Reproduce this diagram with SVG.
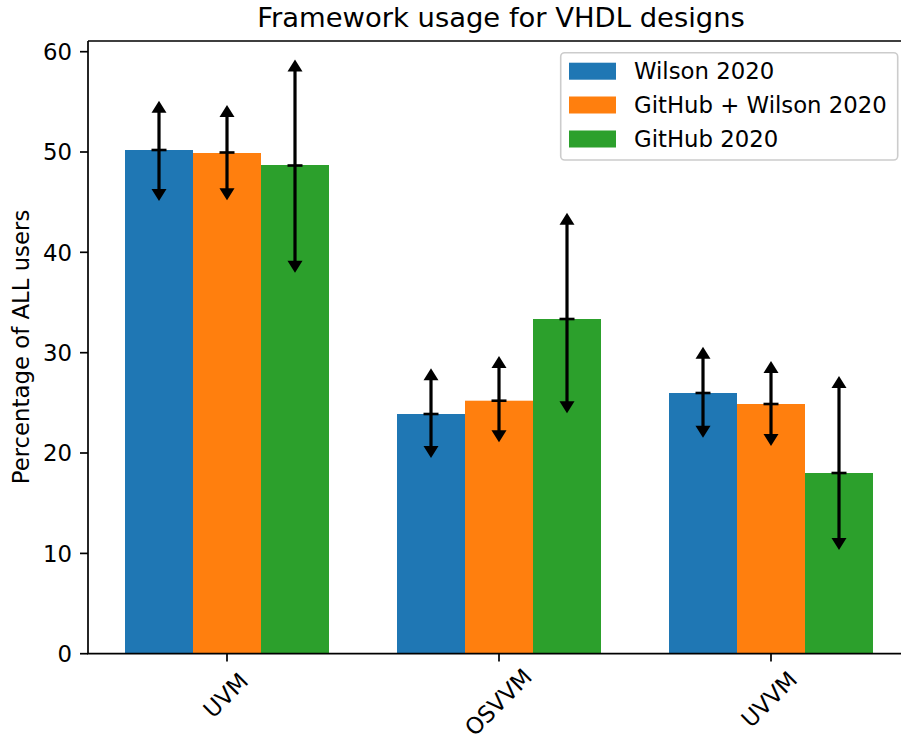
<svg xmlns="http://www.w3.org/2000/svg" width="901" height="740" viewBox="0 0 901 740">
<style>
text{font-family:"DejaVu Sans","Liberation Sans",sans-serif;fill:#000}
.tk{font-size:22.8px}
.b1{fill:#1f77b4}.b2{fill:#ff7f0e}.b3{fill:#2ca02c}
.err{stroke:#000;stroke-width:3.2;fill:none}
.cap{stroke:#000;stroke-width:2.6}
.spine{stroke:#000;stroke-width:1.7;fill:none}
.tick{stroke:#000;stroke-width:1.7}
</style>
<defs>
<path id="up" d="M0,0 L7.5,12 L-7.5,12 Z"/>
<path id="dn" d="M0,0 L7.5,-12 L-7.5,-12 Z"/>
</defs>
<rect width="901" height="740" fill="#fff"/>
<g id="bars">
<rect class="b1" x="125" y="150" width="68" height="503.7"/>
<rect class="b2" x="193" y="153" width="68" height="500.7"/>
<rect class="b3" x="261" y="165" width="68" height="488.7"/>
<rect class="b1" x="397" y="414" width="68" height="239.7"/>
<rect class="b2" x="465" y="400.7" width="68" height="253"/>
<rect class="b3" x="533" y="319" width="68" height="334.7"/>
<rect class="b1" x="669" y="393" width="68" height="260.7"/>
<rect class="b2" x="737" y="404" width="68" height="249.7"/>
<rect class="b3" x="805" y="473" width="68" height="180.7"/>
</g>
<g id="connectors">
<g id="err-uvm-wilson"><line class="err" x1="159" y1="106" x2="159" y2="195"/><line class="cap" x1="151.5" y1="150" x2="166.5" y2="150"/><use href="#up" x="159" y="100.7"/><use href="#dn" x="159" y="201"/></g>
<g id="err-uvm-both"><line class="err" x1="227" y1="110" x2="227" y2="194"/><line class="cap" x1="219.5" y1="152.5" x2="234.5" y2="152.5"/><use href="#up" x="227" y="105"/><use href="#dn" x="227" y="200.3"/></g>
<g id="err-uvm-github"><line class="err" x1="295" y1="65" x2="295" y2="267"/><line class="cap" x1="287.5" y1="165.5" x2="302.5" y2="165.5"/><use href="#up" x="295" y="59.5"/><use href="#dn" x="295" y="272.7"/></g>
<g id="err-osvvm-wilson"><line class="err" x1="431" y1="374" x2="431" y2="452"/><line class="cap" x1="423.5" y1="414" x2="438.5" y2="414"/><use href="#up" x="431" y="368.3"/><use href="#dn" x="431" y="458"/></g>
<g id="err-osvvm-both"><line class="err" x1="499" y1="361" x2="499" y2="437"/><line class="cap" x1="491.5" y1="400.7" x2="506.5" y2="400.7"/><use href="#up" x="499" y="356"/><use href="#dn" x="499" y="442.3"/></g>
<g id="err-osvvm-github"><line class="err" x1="567" y1="218" x2="567" y2="408"/><line class="cap" x1="559.5" y1="319" x2="574.5" y2="319"/><use href="#up" x="567" y="212.7"/><use href="#dn" x="567" y="413.3"/></g>
<g id="err-uvvm-wilson"><line class="err" x1="703" y1="352" x2="703" y2="432"/><line class="cap" x1="695.5" y1="393" x2="710.5" y2="393"/><use href="#up" x="703" y="346.7"/><use href="#dn" x="703" y="437.7"/></g>
<g id="err-uvvm-both"><line class="err" x1="771" y1="366" x2="771" y2="440"/><line class="cap" x1="763.5" y1="404" x2="778.5" y2="404"/><use href="#up" x="771" y="361"/><use href="#dn" x="771" y="446"/></g>
<g id="err-uvvm-github"><line class="err" x1="839" y1="381" x2="839" y2="544"/><line class="cap" x1="831.5" y1="473" x2="846.5" y2="473"/><use href="#up" x="839" y="376"/><use href="#dn" x="839" y="550"/></g>
</g>
<g id="axes">
<path class="spine" d="M88,41 L88,653.7 L901,653.7 M88,41 L901,41"/>
<g class="tick">
<line x1="80" y1="653.7" x2="88" y2="653.7"/>
<line x1="80" y1="553.4" x2="88" y2="553.4"/>
<line x1="80" y1="453" x2="88" y2="453"/>
<line x1="80" y1="352.7" x2="88" y2="352.7"/>
<line x1="80" y1="252.3" x2="88" y2="252.3"/>
<line x1="80" y1="152" x2="88" y2="152"/>
<line x1="80" y1="51.7" x2="88" y2="51.7"/>
<line x1="227" y1="653.7" x2="227" y2="661.5"/>
<line x1="499" y1="653.7" x2="499" y2="661.5"/>
<line x1="771" y1="653.7" x2="771" y2="661.5"/>
</g>
<g class="tk" text-anchor="end">
<text x="72" y="662">0</text>
<text x="72" y="561.7">10</text>
<text x="72" y="461.3">20</text>
<text x="72" y="361">30</text>
<text x="72" y="260.6">40</text>
<text x="72" y="160.3">50</text>
<text x="72" y="60">60</text>
</g>
<g class="tk" text-anchor="middle">
<text transform="translate(225.5,695) rotate(-45)" y="8.3">UVM</text>
<text transform="translate(498,702) rotate(-45)" y="8.3">OSVVM</text>
<text transform="translate(769,699) rotate(-45)" y="8.3">UVVM</text>
</g>
<text class="tk" transform="translate(28.5,347) rotate(-90)" text-anchor="middle">Percentage of ALL users</text>
<text x="501" y="27" font-size="27.4" text-anchor="middle">Framework usage for VHDL designs</text>
</g>
<g id="legend">
<rect x="560.7" y="52.7" width="337" height="107.3" rx="4" fill="#fff" fill-opacity="0.8" stroke="#cccccc" stroke-width="1.6"/>
<rect class="b1" x="569" y="62.7" width="47" height="17"/>
<rect class="b2" x="569" y="96.5" width="47" height="17"/>
<rect class="b3" x="569" y="130.5" width="47" height="17"/>
<text class="tk" x="634" y="79">Wilson 2020</text>
<text class="tk" x="634" y="112.7">GitHub + Wilson 2020</text>
<text class="tk" x="634" y="146.7">GitHub 2020</text>
</g>
</svg>
